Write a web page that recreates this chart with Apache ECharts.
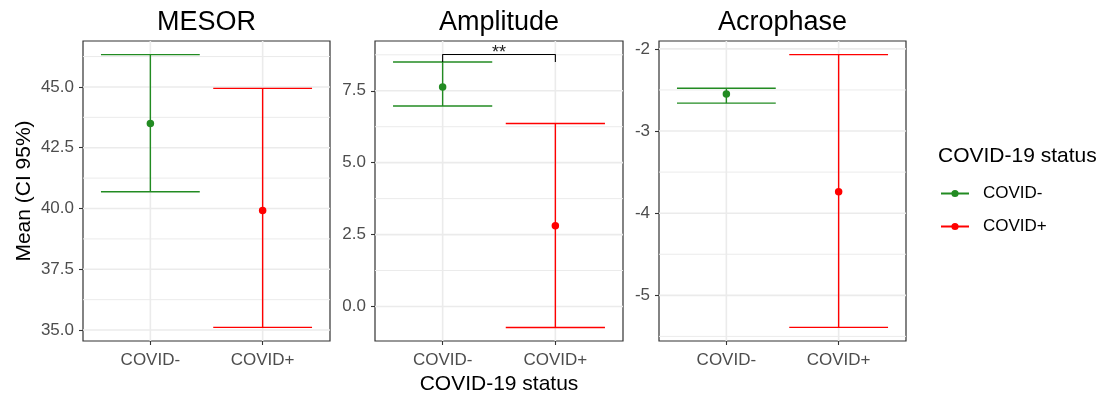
<!DOCTYPE html>
<html>
<head>
<meta charset="utf-8">
<script src="https://cdn.jsdelivr.net/npm/echarts@6/dist/echarts.min.js"></script>
<style>
html, body { margin: 0; padding: 0; background: #fff; }
#main { width: 1102px; height: 394px; }
</style>
</head>
<body>
<div id="main"></div>
<script>
// categories and panels
var groups = ['COVID-', 'COVID+'];
var panels = ['MESOR', 'Amplitude', 'Acrophase'];
// mean and 95% CI, one value per panel
var meanNeg = [43.5, 7.63, -2.55];
var lowNeg = [40.69, 6.97, -2.66];
var highNeg = [46.33, 8.5, -2.48];
var meanPos = [39.92, 2.81, -3.74];
var lowPos = [35.11, -0.73, -5.39];
var highPos = [44.94, 6.36, -2.07];
// tick labels / gridlines
var yTicks = [[35, 37.5, 40, 42.5, 45], [0, 2.5, 5, 7.5], [-5, -4, -3, -2]];
var yMinor = [[36.25, 38.75, 41.25, 43.75, 46.25], [1.25, 3.75, 6.25, 8.75], [-5.5, -4.5, -3.5, -2.5]];
var yDigits = [1, 1, 0];
// significance bracket (Amplitude panel)
var sigX = [1, 1, 2, 2];
var sigY = [8.5, 8.76, 8.76, 8.5];
var sigLabel = '**';

var yMin = [34.55, -1.2, -5.556];
var yMax = [46.89, 9.23, -1.904];
var gridLeft = [83, 375, 659];
var gridWidth = [247, 248, 247];
var green = '#228B22', red = '#FF0000';
var font = 'Liberation Sans, Arial, sans-serif';
var capWidth = 0.88;

var chart = echarts.init(document.getElementById('main'));

function gridRender(params, api) {
  var cs = params.coordSys;
  var kind = api.value(0), v = api.value(1), major = api.value(2);
  var shape;
  if (kind === 0) {
    var p = api.coord([1, v]);
    shape = { x1: cs.x, y1: p[1], x2: cs.x + cs.width, y2: p[1] };
  } else {
    var q = api.coord([v, api.value(3)]);
    shape = { x1: q[0], y1: cs.y, x2: q[0], y2: cs.y + cs.height };
  }
  return { type: 'line', shape: shape, style: { stroke: '#ebebeb', lineWidth: major ? 1.6 : 1.0 } };
}

function barRender(params, api) {
  var x = api.value(0);
  var lo = api.coord([x, api.value(1)]);
  var hi = api.coord([x, api.value(2)]);
  var half = api.size([capWidth, 0])[0] / 2;
  var st = { stroke: api.visual('color'), lineWidth: 1.4 };
  return {
    type: 'group',
    children: [
      { type: 'line', shape: { x1: lo[0], y1: lo[1], x2: hi[0], y2: hi[1] }, style: st },
      { type: 'line', shape: { x1: lo[0] - half, y1: lo[1], x2: lo[0] + half, y2: lo[1] }, style: st },
      { type: 'line', shape: { x1: hi[0] - half, y1: hi[1], x2: hi[0] + half, y2: hi[1] }, style: st }
    ]
  };
}

function sigRender(params, api) {
  var p = api.coord([api.value(0), api.value(1)]);
  return {
    type: 'text',
    x: p[0], y: p[1] + 8,
    style: { text: sigLabel, fontSize: 18, fontFamily: font, fill: '#222', align: 'center', verticalAlign: 'bottom' }
  };
}

var grid = [], xAxis = [], yAxis = [], series = [], title = [];
for (var i = 0; i < 3; i++) {
  grid.push({
    left: gridLeft[i], top: 41, width: gridWidth[i], height: 300, outerBoundsMode: 'none',
    show: true, backgroundColor: '#fff', borderColor: '#333', borderWidth: 1.2
  });
  title.push({
    text: panels[i], left: gridLeft[i] + gridWidth[i] / 2, top: 9, textAlign: 'center', padding: 0,
    textStyle: { fontSize: 27, fontWeight: 'normal', color: '#000', fontFamily: font }
  });
  xAxis.push({
    type: 'value', gridIndex: i, min: 0.4, max: 2.6,
    axisLine: { show: false, onZero: false }, splitLine: { show: false },
    axisTick: { show: true, customValues: [1, 2], length: 4, lineStyle: { color: '#333', width: 1.1 } },
    axisLabel: {
      customValues: [1, 2], margin: 11, fontSize: 17, color: '#4d4d4d', fontFamily: font,
      formatter: function (v) { return groups[Math.round(v) - 1]; }
    },
    name: i === 1 ? 'COVID-19 status' : '', nameLocation: 'middle', nameGap: 32,
    nameTextStyle: { fontSize: 21, color: '#000', fontFamily: font }
  });
  (function (k) {
    yAxis.push({
      type: 'value', gridIndex: k, min: yMin[k], max: yMax[k],
      axisLine: { show: false, onZero: false }, splitLine: { show: false },
      axisTick: { show: true, customValues: yTicks[k], length: 4, lineStyle: { color: '#333', width: 1.1 } },
      axisLabel: {
        customValues: yTicks[k], margin: 9, fontSize: 17, color: '#4d4d4d', fontFamily: font,
        formatter: function (v) { return Number(v).toFixed(yDigits[k]); }
      },
      name: k === 0 ? 'Mean (CI 95%)' : '', nameLocation: 'middle', nameGap: 48,
      nameTextStyle: { fontSize: 21, color: '#000', fontFamily: font }
    });
  })(i);

  var lines = [];
  yMinor[i].forEach(function (v) { lines.push([0, v, 0, 0]); });
  yTicks[i].forEach(function (v) { lines.push([0, v, 1, 0]); });
  [1, 2].forEach(function (v) { lines.push([1, v, 1, yMin[i]]); });
  series.push({
    type: 'custom', name: 'grid' + i, xAxisIndex: i, yAxisIndex: i, z: 0, silent: true,
    renderItem: gridRender, data: lines
  });
  series.push({
    type: 'custom', name: 'ci' + i, xAxisIndex: i, yAxisIndex: i, z: 2, silent: true,
    renderItem: barRender,
    data: [
      { value: [1, lowNeg[i], highNeg[i]], itemStyle: { color: green } },
      { value: [2, lowPos[i], highPos[i]], itemStyle: { color: red } }
    ],
    encode: { x: 0, y: [1, 2] }
  });
  series.push({
    type: 'line', name: groups[0], xAxisIndex: i, yAxisIndex: i, z: 3,
    data: [[1, meanNeg[i]]], symbol: 'circle', symbolSize: 7.5, showSymbol: true,
    itemStyle: { color: green }, lineStyle: { color: green, width: 1.4 }
  });
  series.push({
    type: 'line', name: groups[1], xAxisIndex: i, yAxisIndex: i, z: 3,
    data: [[2, meanPos[i]]], symbol: 'circle', symbolSize: 7.5, showSymbol: true,
    itemStyle: { color: red }, lineStyle: { color: red, width: 1.4 }
  });
}

series.push({
  type: 'line', name: 'sig', xAxisIndex: 1, yAxisIndex: 1, z: 4, silent: true,
  data: sigX.map(function (x, j) { return [x, sigY[j]]; }),
  showSymbol: false, symbol: 'none', lineStyle: { color: '#000', width: 1.1 }
});
series.push({
  type: 'custom', name: 'sigtext', xAxisIndex: 1, yAxisIndex: 1, z: 4, silent: true,
  renderItem: sigRender, data: [[1.5, sigY[1]]]
});

title.push({
  text: 'COVID-19 status', left: 938, top: 146, padding: 0,
  textStyle: { fontSize: 21, fontWeight: 'normal', color: '#000', fontFamily: font }
});

chart.setOption({
  animation: false,
  backgroundColor: '#fff',
  title: title,
  grid: grid,
  xAxis: xAxis,
  yAxis: yAxis,
  legend: {
    data: groups, orient: 'vertical', left: 940, top: 185, padding: 0,
    itemWidth: 28, itemHeight: 9, itemGap: 16,
    textStyle: { fontSize: 17, color: '#000', fontFamily: font, padding: [0, 0, 0, 9] }
  },
  series: series
});
</script>
</body>
</html>
